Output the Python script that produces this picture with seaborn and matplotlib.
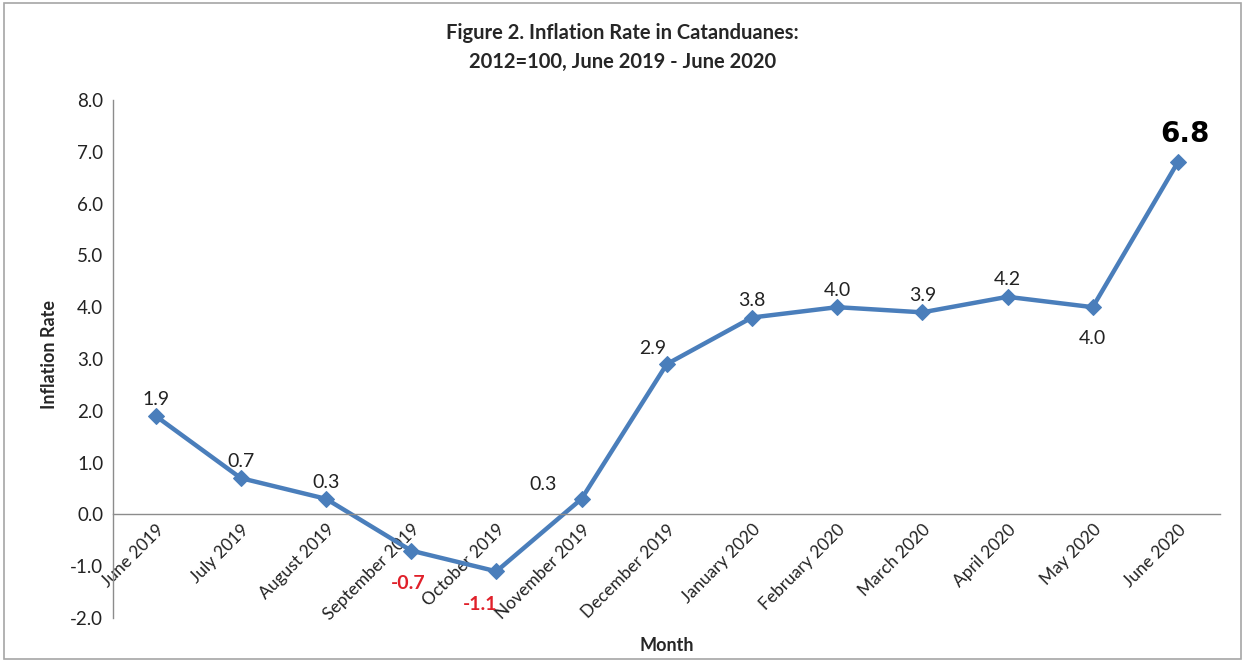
import seaborn as sns
import matplotlib.pyplot as plt
import pandas as pd
from matplotlib.patches import Rectangle

# Data
months = ['June 2019', 'July 2019', 'August 2019', 'September 2019', 'October 2019',
          'November 2019', 'December 2019', 'January 2020', 'February 2020',
          'March 2020', 'April 2020', 'May 2020', 'June 2020']
rates = [1.9, 0.7, 0.3, -0.7, -1.1, 0.3, 2.9, 3.8, 4.0, 3.9, 4.2, 4.0, 6.8]
y_ticks = [-2, -1, 0, 1, 2, 3, 4, 5, 6, 7, 8]

df = pd.DataFrame({'month': months, 'rate': rates, 'pos': range(len(months))})

sns.set_style('white')
plt.rcParams['font.family'] = ['Lato', 'DejaVu Sans']

fig = plt.figure(figsize=(12.45, 6.62), dpi=100)
ax = fig.add_axes([0.0908, 0.0665, 0.8895, 0.7825])

line_color = '#4a7ebb'
sns.lineplot(data=df, x='pos', y='rate', ax=ax, color=line_color, linewidth=3.2,
             marker='D', markersize=8, markeredgecolor=line_color, sort=False)

# x axis sits on the zero line (do this before styling tick labels,
# since moving the spine resets the ticks)
ax.spines['bottom'].set_position(('data', 0))
for side in ['top', 'right']:
    ax.spines[side].set_visible(False)
for side in ['bottom', 'left']:
    ax.spines[side].set_color('#8c8c8c')
    ax.spines[side].set_linewidth(1)

ax.set_xlim(-0.5, len(months) - 0.5)
ax.set_ylim(-2, 8)
ax.set_yticks(y_ticks)
ax.set_yticklabels(['%.1f' % t for t in y_ticks], fontsize=13.5, color='#222222')
ax.set_xticks(df['pos'])
ax.set_xticklabels(months, fontsize=12.5, color='#222222')
ax.tick_params(axis='both', length=0)
ax.tick_params(axis='y', pad=7)
ax.tick_params(axis='x', pad=5)
plt.setp(ax.get_xticklabels(), rotation=45, ha='right', rotation_mode='anchor')

ax.set_xlabel('Month', fontsize=13, fontweight='bold')
ax.xaxis.set_label_coords(0.5, -0.036)
ax.set_ylabel('Inflation Rate', fontsize=13, fontweight='bold')
ax.yaxis.set_label_coords(-0.05, 0.508)

fig.suptitle('Figure 2. Inflation Rate in Catanduanes:\n2012=100, June 2019 - June 2020',
             x=0.5, y=0.965, fontsize=14.5, fontweight='bold', linespacing=1.55)

# Data labels: (dx, dy) offset in points, color, weight, size
label_style = {
    3: ((-2, -30), '#e0202a', 'bold', 14),
    4: ((-12, -30), '#e0202a', 'bold', 14),
    5: ((-28, 4), '#222222', 'normal', 14),
    6: ((-10, 5), '#222222', 'normal', 14),
    11: ((0, -29), '#222222', 'normal', 14),
    12: ((5, 10), '#000000', 'bold', 20),
}
for i, r in enumerate(rates):
    off, col, wt, fs = label_style.get(i, ((0, 6), '#222222', 'normal', 14))
    fam = ['DejaVu Sans'] if i == 12 else None
    ax.annotate('%.1f' % r, (i, r), xytext=off, textcoords='offset points',
                ha='center', va='bottom', color=col, fontweight=wt, fontsize=fs,
                family=fam)

# light gray frame around the figure
fig.patches.append(Rectangle((0.003, 0.004), 0.994, 0.992, transform=fig.transFigure,
                             fill=False, edgecolor='#a6a6a6', linewidth=1.2))

plt.savefig('out.png', dpi=100)
